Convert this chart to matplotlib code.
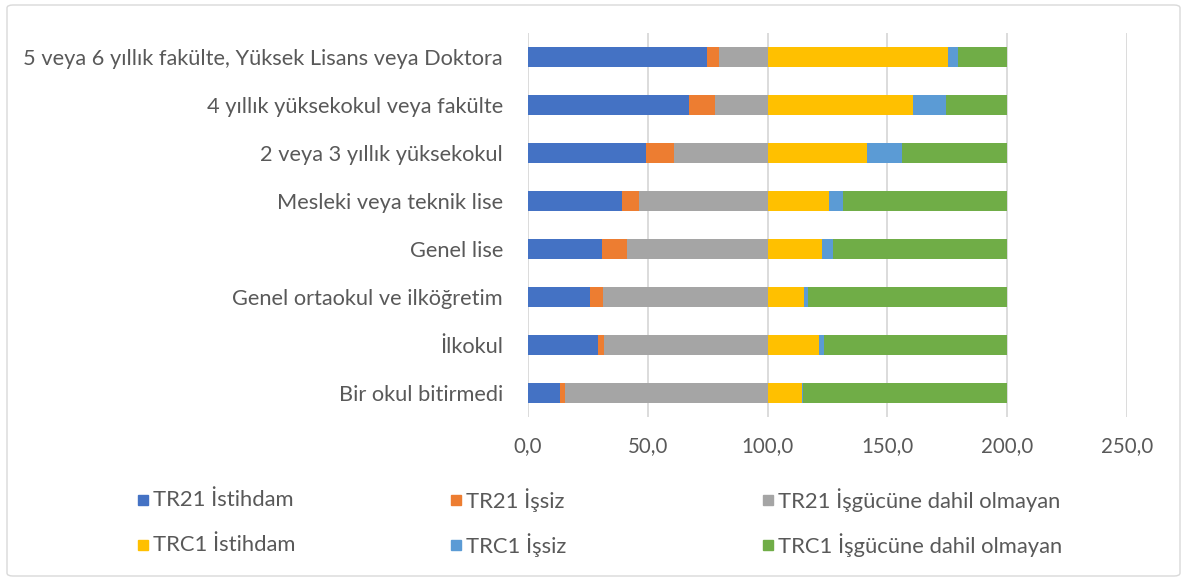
import matplotlib
matplotlib.use("Agg")
import matplotlib.pyplot as plt
from matplotlib.patches import Rectangle, FancyBboxPatch
import numpy as np

plt.rcParams['font.family'] = ['Lato', 'DejaVu Sans']

categories = [
    "Bir okul bitirmedi",
    "İlkokul",
    "Genel ortaokul ve ilköğretim",
    "Genel lise",
    "Mesleki veya teknik lise",
    "2 veya 3 yıllık yüksekokul",
    "4 yıllık yüksekokul veya fakülte",
    "5 veya 6 yıllık fakülte, Yüksek Lisans veya Doktora",
]
tr21_istihdam = [13.4, 29.2, 26.0, 30.7, 39.2, 49.4, 67.2, 74.7]
tr21_issiz = [2.0, 2.6, 5.4, 10.7, 7.1, 11.4, 11.0, 5.0]
tr21_disi = [84.6, 68.2, 68.6, 58.6, 53.7, 39.2, 21.8, 20.3]
trc1_istihdam = [14.5, 21.4, 15.3, 22.8, 25.5, 41.6, 60.5, 75.5]
trc1_issiz = [0.3, 2.0, 1.4, 4.7, 6.1, 14.3, 13.8, 3.8]
trc1_disi = [85.2, 76.6, 83.3, 72.5, 68.4, 44.1, 25.7, 20.7]

series = [
    ("TR21 İstihdam", tr21_istihdam, "#4472C4"),
    ("TR21 İşsiz", tr21_issiz, "#ED7D31"),
    ("TR21 İşgücüne dahil olmayan", tr21_disi, "#A5A5A5"),
    ("TRC1 İstihdam", trc1_istihdam, "#FFC000"),
    ("TRC1 İşsiz", trc1_issiz, "#5B9BD5"),
    ("TRC1 İşgücüne dahil olmayan", trc1_disi, "#70AD47"),
]
xticks = [0, 50, 100, 150, 200, 250]
xticklabels = ["0,0", "50,0", "100,0", "150,0", "200,0", "250,0"]

W, H = 1186, 581
fig = plt.figure(figsize=(W / 100, H / 100), dpi=100)
ax = fig.add_axes([528 / W, 1 - 417 / H, (1127 - 528) / W, (417 - 33) / H])

y = np.arange(len(categories))
left = np.zeros(len(categories))
for name, vals, col in series:
    ax.barh(y, vals, left=left, height=0.4, color=col, label=name, zorder=3)
    left = left + np.array(vals)

ax.set_xlim(0, 250)
ax.set_ylim(-0.5, len(categories) - 0.5)
ax.set_xticks(xticks)
ax.set_xticklabels(xticklabels)
ax.set_yticks(y)
ax.set_yticklabels(categories)
ax.grid(axis='x', color='#D9D9D9', linewidth=1.3, zorder=0)
for s in ax.spines.values():
    s.set_visible(False)
ax.tick_params(axis='both', length=0, colors='#595959')
ax.tick_params(axis='x', labelsize=14.8, pad=14)
ax.tick_params(axis='y', labelsize=15.7, pad=18)

# legend (manual placement)
cols_x = [138, 451, 763]
rows_y = [500, 545]
for i, (name, vals, col) in enumerate(series):
    r, c = divmod(i, 3)
    x0 = cols_x[c]
    y0 = rows_y[r]
    fig.patches.append(Rectangle((x0 / W, 1 - (y0 + 5) / H), 10 / W, 10 / H,
                                 transform=fig.transFigure, color=col))
    fig.text((x0 + 15) / W, 1 - y0 / H, name, va='center', ha='left',
             fontsize=15.8, color='#595959')

fig.patches.append(FancyBboxPatch((7 / W, 5 / H), (1180 - 7) / W, (576 - 5) / H,
                                  boxstyle="round,pad=0,rounding_size=0.005",
                                  transform=fig.transFigure, fill=False,
                                  edgecolor='#D9D9D9', linewidth=1))

fig.savefig("out.png", dpi=100)
